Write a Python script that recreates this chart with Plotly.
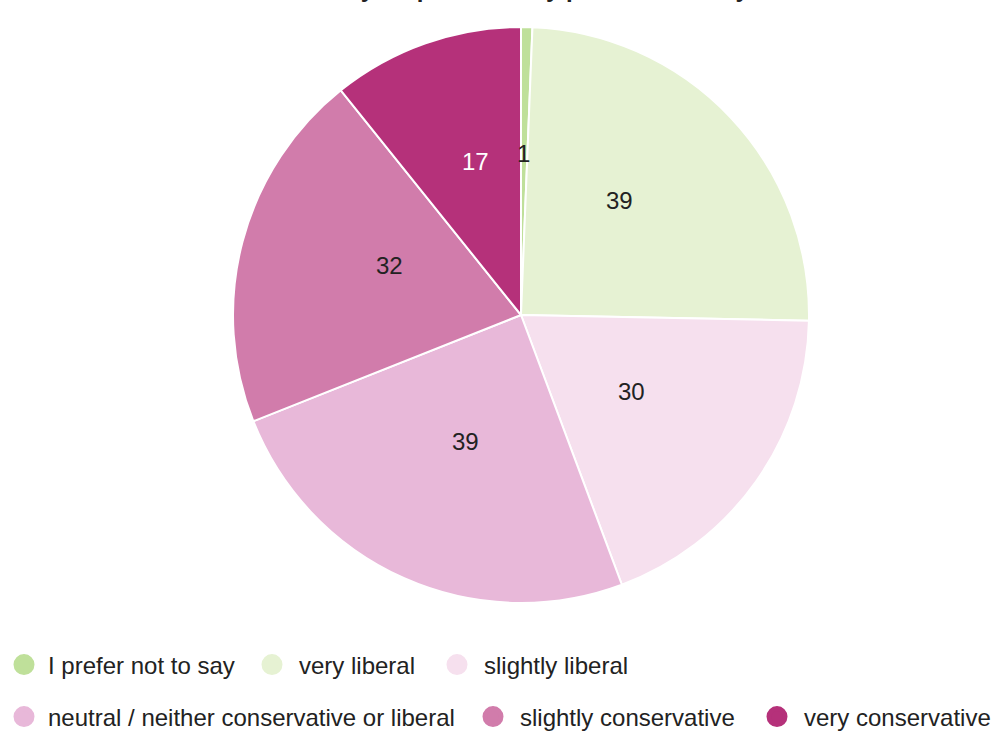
import math
import plotly.graph_objects as go

# Survey answers, in the order the slices run clockwise from 12 o'clock
categories = [
    "I prefer not to say",
    "very liberal",
    "slightly liberal",
    "neutral / neither conservative or liberal",
    "slightly conservative",
    "very conservative",
]
counts = [1, 39, 30, 39, 32, 17]
title_text = "Survey respondents by political identity"

# Styling
slice_colors = ["#bfe09a", "#e6f2d3", "#f6e0ee", "#e8b8d9", "#d17cab", "#b5317a"]
label_colors = ["#222222", "#222222", "#222222", "#222222", "#222222", "#ffffff"]
FONT = "Liberation Sans, Arial, Helvetica, sans-serif"

W, H = 997, 732
CX, CY, R = 521, 315, 288  # pie centre and radius in pixels

# Legend layout: where each entry's text starts (px) and which row it sits on
legend_text_x = [49, 300, 485, 49, 521, 805]
legend_row_y = [665, 665, 665, 717, 717, 717]

fig = go.Figure()
fig.add_trace(
    go.Pie(
        labels=categories,
        values=counts,
        sort=False,
        direction="clockwise",
        rotation=0,
        marker=dict(colors=slice_colors, line=dict(color="white", width=2)),
        textinfo="none",
        showlegend=False,
        hoverinfo="label+value",
        domain=dict(x=[(CX - R) / W, (CX + R) / W], y=[1 - (CY + R) / H, 1 - (CY - R) / H]),
    )
)

# Value labels, placed about halfway out along each slice's middle angle
total = sum(counts)
cum = 0
for value, tcol in zip(counts, label_colors):
    mid = (cum + value / 2) / total * 2 * math.pi
    cum += value
    px = CX + 0.472 * R * math.sin(mid)
    py = CY - 11 - 0.524 * R * math.cos(mid)
    fig.add_annotation(
        x=px / W, y=1 - py / H, xref="paper", yref="paper",
        xanchor="center", yanchor="middle",
        text=str(value), showarrow=False,
        font=dict(size=24, color=tcol, family=FONT),
    )

# Legend entries with round markers, one small legend per entry
legend_layouts = {}
for i, (cat, col) in enumerate(zip(categories, slice_colors)):
    lname = "legend" if i == 0 else f"legend{i + 1}"
    fig.add_trace(
        go.Scatter(
            x=[None], y=[None], mode="markers", name=cat,
            marker=dict(symbol="circle", size=16, color=col, line=dict(color=col, width=5)),
            legend=lname,
            hoverinfo="skip",
        )
    )
    first_col = legend_text_x[i] < 100
    iw = 38 if first_col else 44
    legend_layouts[lname] = dict(
        orientation="h",
        x=max(0, legend_text_x[i] - (iw + 11)) / W, xanchor="left",
        y=1 - legend_row_y[i] / H, yanchor="middle",
        font=dict(size=24, family=FONT, color="#222222"),
        bgcolor="rgba(0,0,0,0)", itemwidth=iw, itemclick=False,
    )

# Title sits above the top edge
fig.add_annotation(
    x=CX / W, y=1 - 4 / H, xref="paper", yref="paper",
    xanchor="center", yanchor="bottom",
    text="<b>" + title_text + "</b>", showarrow=False,
    font=dict(size=24, color="#222222", family=FONT),
)

fig.update_layout(
    width=W, height=H,
    margin=dict(l=0, r=0, t=0, b=0, autoexpand=False),
    paper_bgcolor="white", plot_bgcolor="white",
    xaxis=dict(visible=False), yaxis=dict(visible=False),
    showlegend=True,
    **legend_layouts,
)

fig.write_html("out.html")
